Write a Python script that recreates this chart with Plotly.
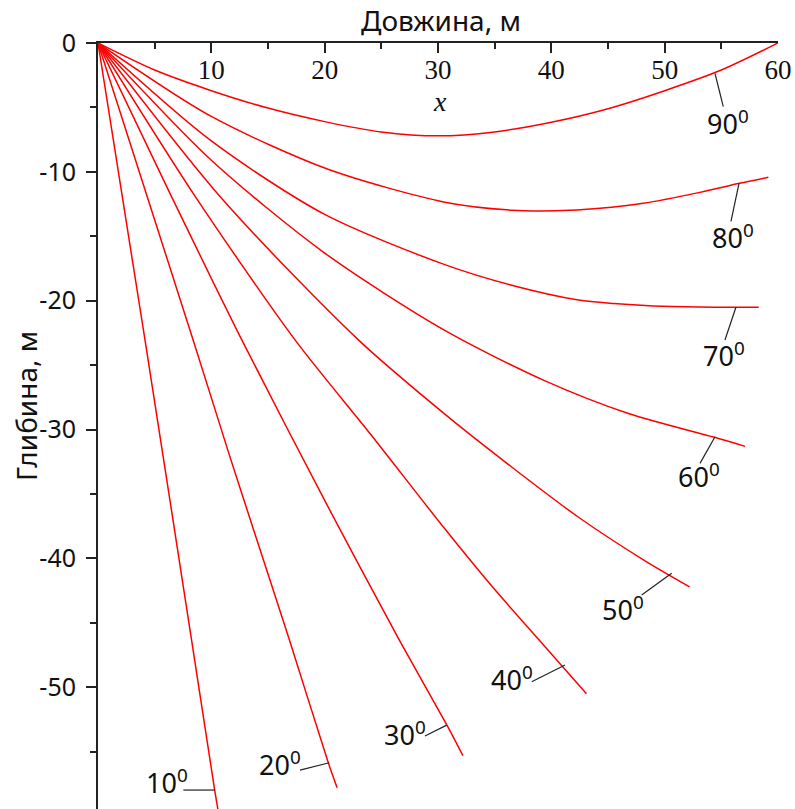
import plotly.graph_objects as go

# ---------------- data ----------------
angles = [10, 20, 30, 40, 50, 60, 70, 80, 90]

x10 = [0, 4.15, 8.2, 10.3, 10.8]
y10 = [0, -23.06, -46.0, -58.0, -60.6]

x20 = [0, 8.4, 11.6, 14.0, 16.9, 20.3, 21.1]
y20 = [0, -23.06, -32.0, -38.5, -46.35, -55.8, -57.8]

x30 = [0, 6.2, 12.7, 20.3, 26.6, 30.8, 32.2]
y30 = [0, -11.4, -23.06, -36.0, -46.35, -52.95, -55.3]

x40 = [0, 8.5, 17.4, 24.0, 30.6, 34.8, 39.0, 43.1]
y40 = [0, -11.8, -23.06, -30.3, -37.7, -42.2, -46.4, -50.5]

x50 = [0, 11.0, 23.0, 30.6, 36.5, 42.4, 48.3, 52.2]
y50 = [0, -12.15, -23.06, -28.8, -32.9, -36.8, -40.2, -42.2]

x60 = [0, 10.0, 20.0, 30.6, 39.4, 46.8, 54.4, 57.1]
y60 = [0, -9.1, -16.3, -22.3, -26.2, -28.75, -30.6, -31.3]

x70 = [0, 10.0, 20.0, 30.6, 36.5, 42.4, 45.5, 49.0, 53.0, 58.3]
y70 = [0, -7.6, -13.3, -17.2, -18.8, -19.95, -20.22, -20.4, -20.48, -20.5]

x80 = [0, 10.0, 20.3, 30.6, 36.5, 40.3, 44.3, 48.1, 53.1, 56.6, 59.15]
y80 = [0, -5.7, -9.8, -12.35, -12.97, -13.02, -12.83, -12.44, -11.59, -10.89, -10.42]

x90 = [0, 5, 10, 15, 20, 25, 30, 35, 40, 45, 50, 55, 60]
y90 = [0, -2.1, -3.7, -5.05, -6.1, -6.9, -7.2, -6.9, -6.15, -5.1, -3.7, -2.1, 0]

curves_x = [x10, x20, x30, x40, x50, x60, x70, x80, x90]
curves_y = [y10, y20, y30, y40, y50, y60, y70, y80, y90]

x_tick_vals = [10, 20, 30, 40, 50, 60]
x_tick_text = ["10", "20", "30", "40", "50", "60"]
x_minor_vals = [5, 15, 25, 35, 45, 55]
y_tick_vals = [0, -10, -20, -30, -40, -50]
y_tick_text = ["0", "-10", "-20", "-30", "-40", "-50"]
y_minor_vals = [-5, -15, -25, -35, -45, -55]

x_title = "Довжина, м"
y_title = "Глибина, м"
x_var = "x"

# ---------------- label placement (layout) ----------------
label_pos = [(6.06, -57.33), (16.06, -55.93), (27.09, -53.55), (36.57, -49.33),
             (46.28, -43.92), (53.03, -33.56), (55.24, -24.21), (55.99, -15.02),
             (55.59, -6.13)]
leaders = [((10.32, -57.97), (7.53, -57.97)),
           ((20.41, -55.85), (17.82, -56.42)),
           ((30.77, -52.93), (28.85, -53.78)),
           ((41.21, -48.27), (38.27, -49.57)),
           ((50.62, -41.15), (47.97, -42.84)),
           ((54.44, -30.55), (53.12, -32.62)),
           ((56.29, -20.51), (55.32, -23.05)),
           ((56.56, -10.90), (55.85, -13.85)),
           ((54.44, -2.35), (55.17, -4.94))]

fig = go.Figure()
for xs, ys in zip(curves_x, curves_y):
    fig.add_trace(go.Scatter(x=xs, y=ys, mode="lines",
                             line=dict(color="#ff0000", width=1.5, shape="spline", smoothing=0.8),
                             hoverinfo="skip", showlegend=False))

for (p0, p1) in leaders:
    fig.add_shape(type="line", xref="x", yref="y", x0=p0[0], y0=p0[1], x1=p1[0], y1=p1[1],
                  line=dict(color="#222222", width=1.2))

for a, (lx, ly) in zip(angles, label_pos):
    fig.add_annotation(x=lx, y=ly, xref="x", yref="y", text=f"{a}<sup>0</sup>",
                       showarrow=False, xanchor="center", yanchor="middle",
                       font=dict(family="Noto Sans", size=27, color="#111111"))

fig.add_annotation(x=0.505, y=1, xref="paper", yref="paper", yshift=23, text=x_title,
                   showarrow=False, xanchor="center", yanchor="middle",
                   font=dict(family="Noto Sans", size=28, color="#111111"))
fig.add_annotation(x=0, y=0.526, xref="paper", yref="paper", xshift=-72, text=y_title,
                   textangle=-90, showarrow=False, xanchor="center", yanchor="middle",
                   font=dict(family="Noto Sans", size=28, color="#111111"))
fig.add_annotation(x=0.503, y=0.9236, xref="paper", yref="paper", text=x_var,
                   showarrow=False, xanchor="center", yanchor="middle",
                   font=dict(family="Liberation Serif", size=28, color="#111111", style="italic"))

axis_color = "#222222"
fig.update_layout(
    width=795, height=809,
    margin=dict(l=98, r=17, t=43, b=0, pad=0),
    paper_bgcolor="white", plot_bgcolor="white",
    showlegend=False,
    xaxis=dict(range=[0, 60], side="top", showline=True, linecolor=axis_color, linewidth=2,
               ticks="inside", ticklen=10, tickwidth=1.5, tickcolor=axis_color,
               tickmode="array", tickvals=x_tick_vals, ticktext=x_tick_text,
               ticklabelposition="inside", ticklabeloverflow="allow", ticklabelstandoff=10,
               tickfont=dict(family="Liberation Serif", size=27, color="#111111"),
               showgrid=False, zeroline=False,
               minor=dict(tickmode="array", tickvals=x_minor_vals, ticks="inside", ticklen=6,
                          tickwidth=1.5, tickcolor=axis_color, showgrid=False)),
    yaxis=dict(range=[-59.44, 0], showline=True, linecolor=axis_color, linewidth=2,
               ticks="outside", ticklen=10, tickwidth=1.5, tickcolor=axis_color,
               tickmode="array", tickvals=y_tick_vals, ticktext=y_tick_text,
               ticklabelstandoff=5,
               tickfont=dict(family="Noto Sans", size=25, color="#111111"),
               showgrid=False, zeroline=False,
               minor=dict(tickmode="array", tickvals=y_minor_vals, ticks="outside", ticklen=6,
                          tickwidth=1.5, tickcolor=axis_color, showgrid=False)),
)

fig.write_html("out.html")
